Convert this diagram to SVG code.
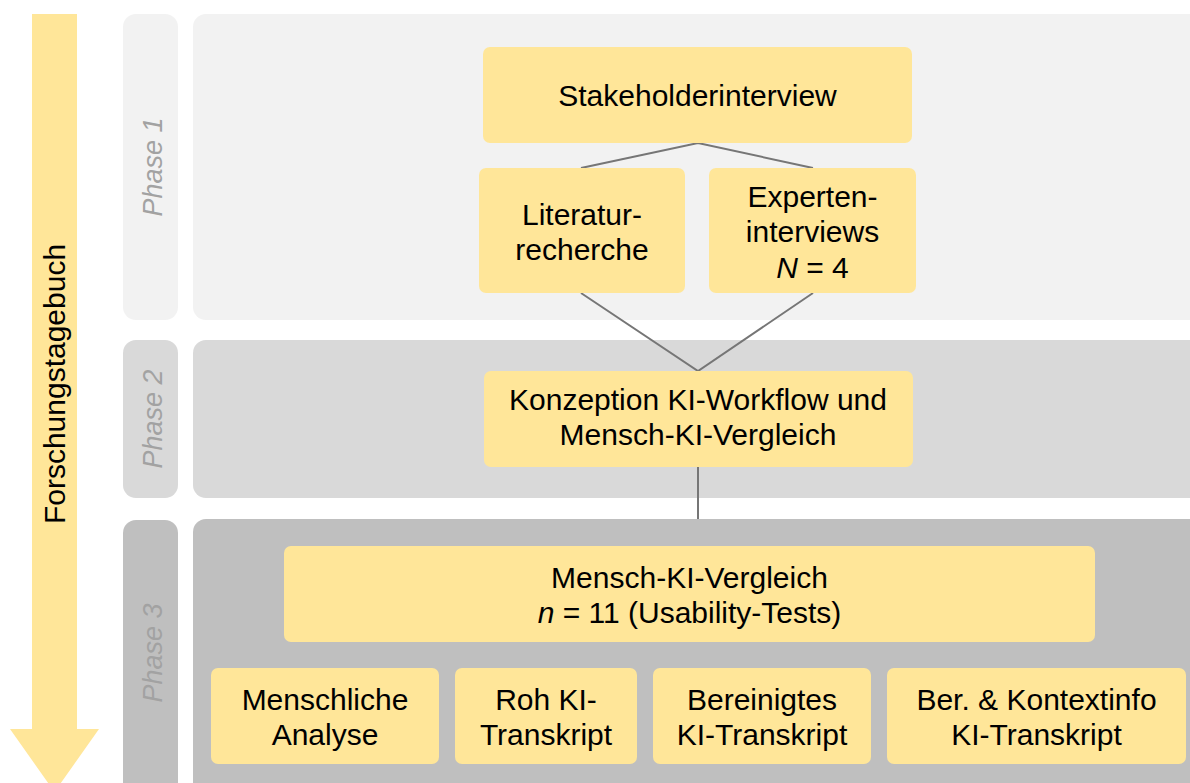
<svg xmlns="http://www.w3.org/2000/svg" width="1190" height="783" viewBox="0 0 1190 783">
<style>
.node{fill:#ffe699}
.t{font-family:"Liberation Sans",Arial,sans-serif;font-size:30px;fill:#000;text-anchor:middle}
.ph{font-family:"Liberation Sans",Arial,sans-serif;font-size:27px;font-style:italic;fill:#a2a2a2;text-anchor:middle}
.conn{stroke:#767676;stroke-width:2;fill:none}
</style>
<rect width="1190" height="783" fill="#ffffff"/>
<g id="timeline">
<polygon points="32,14 77,14 77,729 99,729 54.5,792 10,729 32,729" fill="#ffe699"/>
<text class="t" x="65" y="384" font-size="30" transform="rotate(-90 65 384)">Forschungstagebuch</text>
</g>
<g id="phase1">
<rect x="123" y="14" width="55" height="306" rx="13" fill="#f2f2f2"/>
<rect x="193" y="14" width="1020" height="306" rx="13" fill="#f2f2f2"/>
<text class="ph" x="162" y="167" transform="rotate(-90 162 167)">Phase 1</text>
</g>
<g id="phase2">
<rect x="123" y="340" width="55" height="158" rx="13" fill="#d9d9d9"/>
<rect x="193" y="340" width="1020" height="158" rx="13" fill="#d9d9d9"/>
<text class="ph" x="162" y="419" transform="rotate(-90 162 419)">Phase 2</text>
</g>
<g id="phase3">
<rect x="123" y="520" width="55" height="290" rx="13" fill="#bfbfbf"/>
<rect x="193" y="519" width="1020" height="290" rx="13" fill="#bfbfbf"/>
<text class="ph" x="162" y="653" transform="rotate(-90 162 653)">Phase 3</text>
</g>
<g id="connectors">
<polyline class="conn" points="581,168 698,143 813,168"/>
<polyline class="conn" points="581,293 698,371 813,293"/>
<line class="conn" x1="698" y1="467" x2="698" y2="519"/>
</g>
<g id="stakeholderinterview">
<rect class="node" x="483" y="47" width="429" height="96" rx="7"/>
<text class="t" x="697.5" y="106">Stakeholderinterview</text>
</g>
<g id="literaturrecherche">
<rect class="node" x="479" y="168" width="206" height="125" rx="7"/>
<text class="t" x="582" y="224.5">Literatur-</text>
<text class="t" x="582" y="259.5">recherche</text>
</g>
<g id="experteninterviews">
<rect class="node" x="709" y="168" width="207" height="125" rx="7"/>
<text class="t" x="812.5" y="207">Experten-</text>
<text class="t" x="812.5" y="242">interviews</text>
<text class="t" x="812.5" y="278"><tspan font-style="italic">N</tspan> = 4</text>
</g>
<g id="konzeption">
<rect class="node" x="484" y="371" width="429" height="96" rx="7"/>
<text class="t" x="698" y="410">Konzeption KI-Workflow und</text>
<text class="t" x="698" y="445">Mensch-KI-Vergleich</text>
</g>
<g id="mensch-ki-vergleich">
<rect class="node" x="284" y="546" width="811" height="96" rx="7"/>
<text class="t" x="689.5" y="588">Mensch-KI-Vergleich</text>
<text class="t" x="689.5" y="623"><tspan font-style="italic">n</tspan> = 11 (Usability-Tests)</text>
</g>
<g id="menschliche-analyse">
<rect class="node" x="211" y="668" width="228" height="96" rx="7"/>
<text class="t" x="325" y="710">Menschliche</text>
<text class="t" x="325" y="745">Analyse</text>
</g>
<g id="roh-ki-transkript">
<rect class="node" x="455" y="668" width="182" height="96" rx="7"/>
<text class="t" x="546" y="710">Roh KI-</text>
<text class="t" x="546" y="745">Transkript</text>
</g>
<g id="bereinigtes-ki-transkript">
<rect class="node" x="653" y="668" width="218" height="96" rx="7"/>
<text class="t" x="762" y="710">Bereinigtes</text>
<text class="t" x="762" y="745">KI-Transkript</text>
</g>
<g id="kontextinfo-ki-transkript">
<rect class="node" x="887" y="668" width="299" height="96" rx="7"/>
<text class="t" x="1036.5" y="710">Ber. &amp; Kontextinfo</text>
<text class="t" x="1036.5" y="745">KI-Transkript</text>
</g>
</svg>
